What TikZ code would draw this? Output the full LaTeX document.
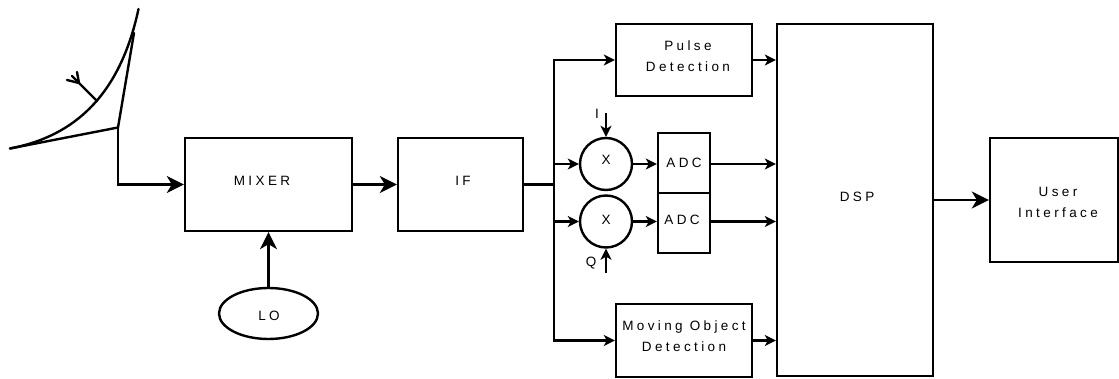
\documentclass[tikz,border=0pt]{standalone}
\usepackage{fontspec}
\setmainfont{Liberation Sans}[LetterSpace = 25]
\usetikzlibrary{arrows.meta, shapes.geometric}
\tikzset{
	tag/.style = {inner sep = 0pt, align = center, font = \fontsize{13.5}{21}\selectfont},
	block/.style = {draw, line width = 2.4pt, inner sep = 0pt},
	caption/.style n args = {3}{label = {[tag, xshift = #1, yshift = #2]center:#3}},
	mult/.style = {block, circle, minimum size = 52pt},
	wire/.style = {line width = 2.4pt, -{Stealth[length = 11pt, width = 11pt, inset = 3pt]}},
	bigwire/.style = {line width = 2.4pt, -{Stealth[length = 17pt, width = 17pt, inset = 5pt]}},
	dish/.style = {line width = 2.4pt, line cap = round}
}
\begin{document}
\begin{tikzpicture}[x = 1pt, y = -1pt]
	\useasboundingbox (0,0) rectangle (1119,379);
	\node[block, minimum width = 167pt, minimum height = 93pt, caption = {-6.5pt}{3.5pt}{MIXER}] (MIXER) at (268.5,184.5) {};
	\node[block, minimum width = 125pt, minimum height = 93pt, caption = {2.5pt}{3.5pt}{IF}] (IF) at (460.5,184.5) {};
	\node[block, minimum width = 136pt, minimum height = 72pt, caption = {4pt}{3.5pt}{Pulse\\Detection}] (PULSE) at (684,60) {};
	\node[block, minimum width = 136pt, minimum height = 73pt, caption = {0pt}{4pt}{Moving Object\\Detection}] (MOVING) at (684,340.5) {};
	\node[block, minimum width = 156pt, minimum height = 352pt, caption = {2pt}{3pt}{DSP}] (DSP) at (855,200) {};
	\node[block, minimum width = 128pt, minimum height = 124pt, caption = {4pt}{-2pt}{User\\Interface}] (USER) at (1054,200) {};
	\node[block, ellipse, minimum width = 99pt, minimum height = 51pt, caption = {0.5pt}{-2pt}{LO}] (LO) at (268.5,313.5) {};
	\node[mult, caption = {0pt}{4pt}{X}] (X1) at (606,164) {};
	\node[mult, caption = {0pt}{1.5pt}{X}] (X2) at (606,221.5) {};
	\node[block, minimum width = 52pt, minimum height = 60pt, caption = {0pt}{0pt}{ADC}] (ADC1) at (684,163) {};
	\node[block, minimum width = 52pt, minimum height = 60pt, caption = {-2pt}{3pt}{ADC}] (ADC2) at (684,223) {};
	\node[tag] (I) at (597,114) {I};
	\node[tag] (Q) at (591,263) {Q};
	\coordinate (FEED) at (118,127.5);
	\coordinate (RIM) at (10,148.5);
	\coordinate (TIP) at (138.5,9);
	\coordinate (ARM) at (134,33);
	\coordinate (HORN) at (97,101);
	\coordinate (THROAT) at (79,83);
	\coordinate (BUS) at (554,184.5);
	\coordinate (BUSTOP) at (554,60);
	\coordinate (BUSLOW) at (554,340.5);
	\coordinate (IIN) at (606,113);
	\coordinate (QIN) at (606,273);
	% antenna
	\draw[dish] (RIM) .. controls (65,138) and (118,105) .. (TIP);
	\draw[dish] (RIM) -- (FEED) -- (ARM);
	\draw[dish] (HORN) -- (THROAT) -- (67,80);
	\draw[dish] (THROAT) -- (77,72);
	\draw[dish] (THROAT) -- (72,76);
	% signal path
	\draw[bigwire] (FEED) |- (MIXER.west);
	\draw[bigwire] (LO) -- (MIXER);
	\draw[bigwire] (MIXER) -- (IF);
	\draw[line width = 2.4pt] (IF) -- (BUS);
	\draw[wire] (BUS) -- (BUSTOP) -- (PULSE);
	\draw[wire] (BUS) -- (BUSLOW) -- (MOVING);
	\draw[wire] (X1 -| BUS) -- (X1);
	\draw[wire] (X2 -| BUS) -- (X2);
	\draw[wire] (IIN) -- (X1);
	\draw[wire] (QIN) -- (X2);
	\draw[wire] (X1) -- (X1 -| ADC1.west);
	\draw[wire] (X2) -- (X2 -| ADC2.west);
	\draw[wire] (X1 -| ADC1.east) -- (X1 -| DSP.west);
	\draw[wire] (X2 -| ADC2.east) -- (X2 -| DSP.west);
	\draw[wire] (PULSE) -- (DSP.west |- PULSE);
	\draw[wire] (MOVING) -- (DSP.west |- MOVING);
	\draw[bigwire] (DSP.east |- USER) -- (USER);
\end{tikzpicture}
\end{document}
